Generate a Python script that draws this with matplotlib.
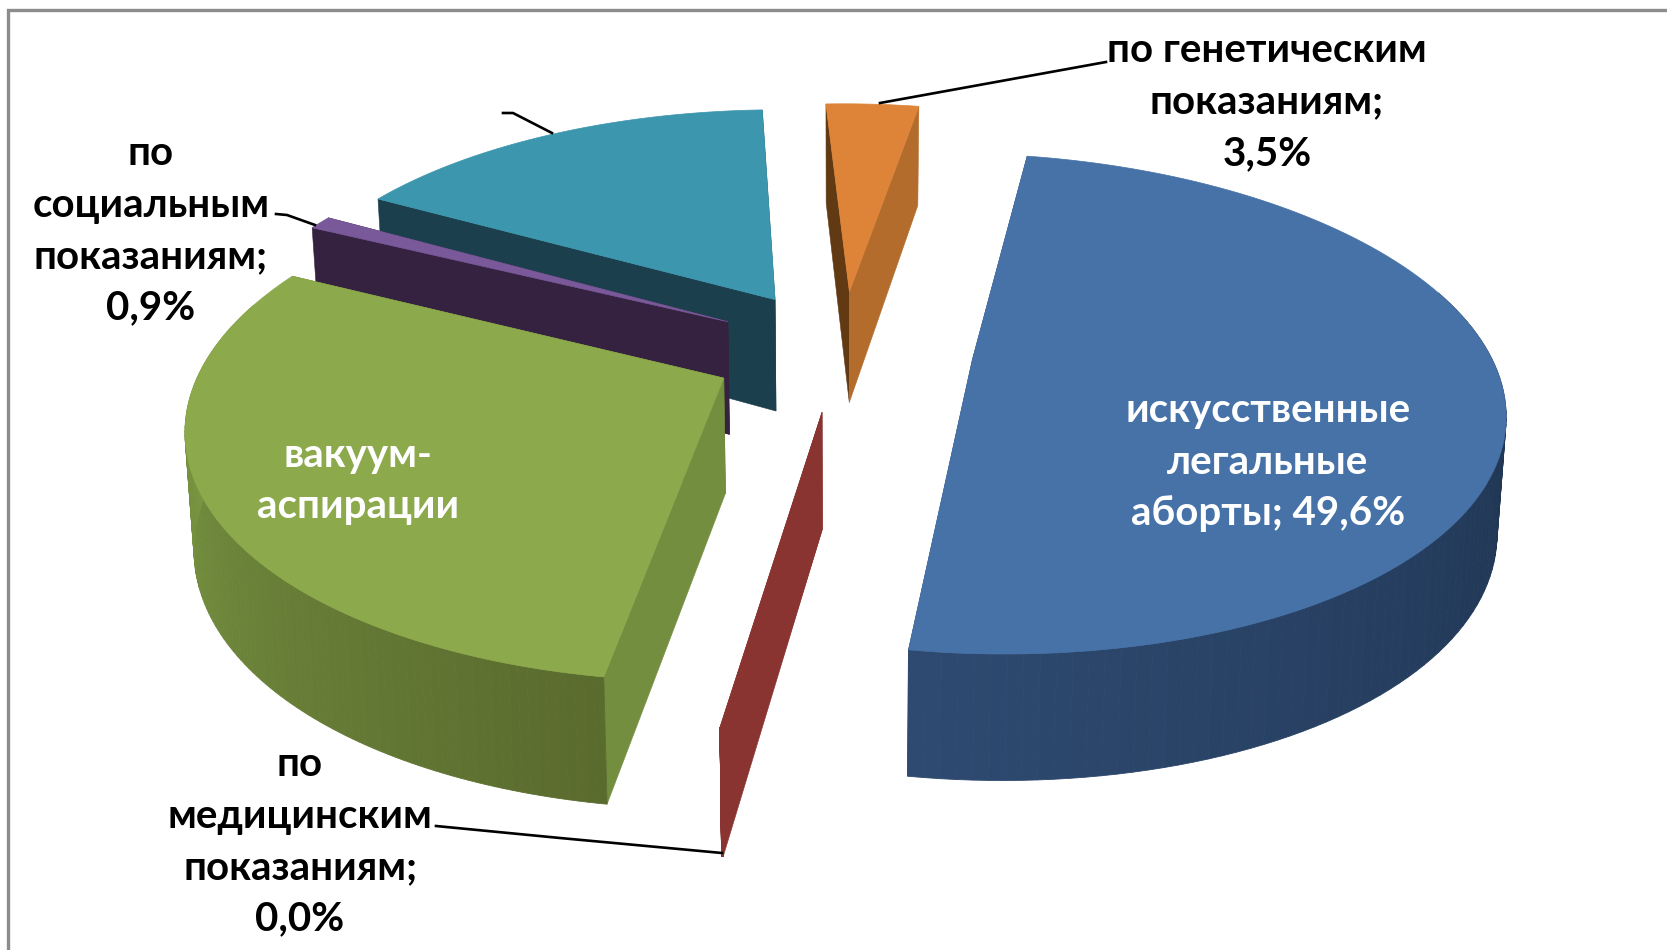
import numpy as np
import matplotlib.pyplot as plt
from matplotlib.colors import to_rgb
from matplotlib.patches import Polygon

plt.rcParams['font.family'] = ['Lato', 'Open Sans', 'DejaVu Sans']

# data
names = ['искусственные легальные аборты', 'по медицинским показаниям', 'вакуум-аспирации',
         'по социальным показаниям', 'прочие', 'по генетическим показаниям']
values = [49.6, 0.04, 29.8, 0.9, 16.16, 3.5]
top_colors = ['#4672A8', '#8A3432', '#8CA94C', '#79599A', '#3B96AE', '#DD8438']
start_colors = ['#2B4568', '#8A3432', '#748E40', '#352240', '#1B3F4C', '#613A14']
end_colors = ['#2B4568', '#8A3432', '#586A2D', '#352240', '#1B3F4C', '#B36C2B']
wall_from = ['#1B2F4A', '#8A3432', '#5A6B2E', '#352240', '#1B3F4C', '#B36C2B']
wall_to = ['#2E4A70', '#8A3432', '#80A046', '#352240', '#1B3F4C', '#B36C2B']
draw_order = [4, 5, 3, 2, 1, 0]
start_angle = 10.2

# camera of the 3d pie, in pixels
cx, cy = 842, 349.5
rx, ry = 516, 239
persp = 0.175
explode = 0.254
shear = 4.5


def project(x, y, down=False):
    w = 1 + persp * y
    sx = cx + rx * x / w - shear * y
    sy = cy - ry * y / w
    if down:
        sx = cx + (sx - cx) / 1.014
        sy = sy + 114 - 12 * y
    return np.column_stack([sx, sy])


def mix(c1, c2, t):
    a = np.array(to_rgb(c1))
    b = np.array(to_rgb(c2))
    return a + (b - a) * t


fig = plt.figure(figsize=(16.67, 9.5), dpi=100, facecolor='white')
ax = fig.add_axes([0, 0, 1, 1])
ax.set_xlim(0, 1667)
ax.set_ylim(950, 0)
ax.axis('off')

# frame
ax.plot([8, 8, 1667], [950, 10, 10], color='#8C8C8C', lw=2.4, solid_joinstyle='miter')

edges = np.cumsum([0] + values) / sum(values) * 360 + start_angle

for i in draw_order:
    mid = np.radians((edges[i] + edges[i + 1]) / 2)
    ex, ey = explode * np.sin(mid), explode * np.cos(mid)
    th = np.radians(np.linspace(edges[i], edges[i + 1], 120))
    x = ex + np.sin(th)
    y = ey + np.cos(th)
    top_arc = project(x, y)
    low_arc = project(x, y, True)
    apex = project(np.array([ex]), np.array([ey]))
    apex_low = project(np.array([ex]), np.array([ey]), True)

    # cut faces, the one further back goes first
    cuts = [(y[0], top_arc[:1], low_arc[:1], start_colors[i]),
            (y[-1], top_arc[-1:], low_arc[-1:], end_colors[i])]
    cuts.sort(key=lambda c: -c[0])
    for _, t_pt, l_pt, col in cuts:
        ax.add_patch(Polygon(np.vstack([apex, t_pt, l_pt, apex_low]), fc=col, ec=col, lw=0.4))

    # outer wall, shaded along the arc, only the part facing us
    front = [j for j in range(len(th) - 1) if np.cos(th[j]) <= 0.3]
    for n, j in enumerate(front):
        col = mix(wall_from[i], wall_to[i], n / max(len(front) - 1, 1))
        quad = np.vstack([top_arc[j:j + 2], low_arc[j:j + 2][::-1]])
        ax.add_patch(Polygon(quad, fc=col, ec=col, lw=0.6))

    ax.add_patch(Polygon(np.vstack([apex, top_arc]), fc=top_colors[i], ec=top_colors[i], lw=0.5))

# leader lines
leaders = [([880, 1106], [103, 62]),
           ([552, 513, 503], [133, 113, 113]),
           ([315, 287, 276], [225, 215, 214]),
           ([722, 560, 436], [853, 838, 826])]
for lx, ly in leaders:
    ax.plot(lx, ly, color='black', lw=1.9, zorder=3)


def pct(v):
    return f'{v:.1f}'.replace('.', ',') + '%'


labels = [
    ('по генетическим\nпоказаниям;\n' + pct(values[5]), 1267, 102, 'black'),
    ('по\nсоциальным\nпоказаниям;\n' + pct(values[3]), 151, 231, 'black'),
    ('вакуум-\nаспирации', 358, 481, 'white'),
    ('искусственные\nлегальные\nаборты; ' + pct(values[0]), 1268, 462, 'white'),
    ('по\nмедицинским\nпоказаниям;\n' + pct(values[1]), 300, 842, 'black'),
]
for txt, tx, ty, col in labels:
    ax.text(tx, ty, txt, color=col, fontsize=29, fontweight='bold', ha='center', va='center',
            linespacing=1.48, zorder=4)

plt.savefig('out.png', dpi=100)
